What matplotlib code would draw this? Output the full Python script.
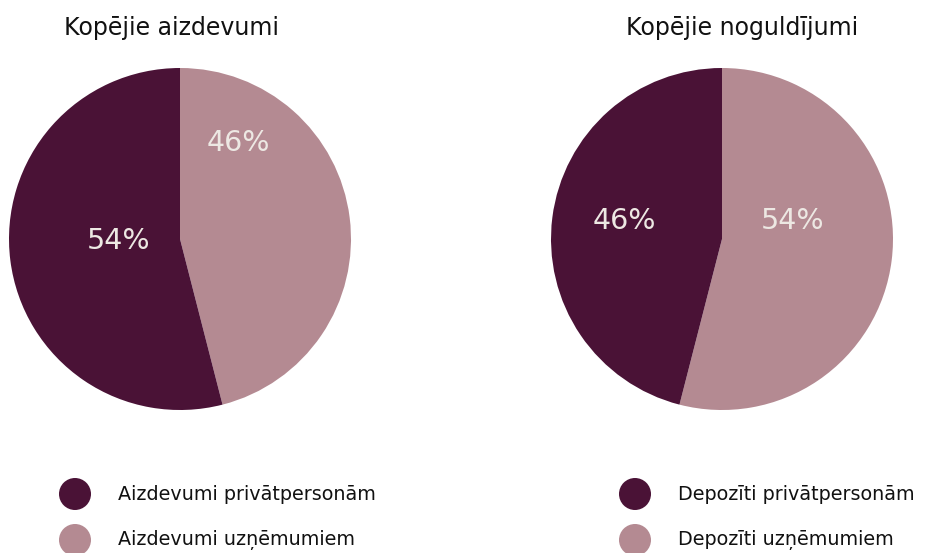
import matplotlib
matplotlib.use("Agg")
import matplotlib.pyplot as plt
from matplotlib.patches import Circle

titles = ["Kopējie aizdevumi", "Kopējie noguldījumi"]
left_labels = ["Aizdevumi uzņēmumiem", "Aizdevumi privātpersonām"]
right_labels = ["Depozīti uzņēmumiem", "Depozīti privātpersonām"]
left_values = [46, 54]
right_values = [54, 46]
colors = ["#b48a92", "#4a1236"]
text_color = "#ede8e3"

plt.rcParams['font.family'] = ['DejaVu Sans']

W, H = 926, 553
fig = plt.figure(figsize=(W / 100, H / 100), dpi=100)

def px_axes(cx, cy, r):
    return fig.add_axes([(cx - r) / W, (H - cy - r) / H, 2 * r / W, 2 * r / H])

pies = [
    (180, 239, 171, left_values, [(0.34, 0.56), (-0.36, -0.01)]),
    (722, 239, 171, right_values, [(0.415, 0.105), (-0.57, 0.105)]),
]
for cx, cy, r, vals, lpos in pies:
    ax = px_axes(cx, cy, r)
    ax.pie(vals, colors=colors, startangle=90, counterclock=False, radius=1.0,
           wedgeprops=dict(linewidth=0))
    ax.set_xlim(-1, 1)
    ax.set_ylim(-1, 1)
    ax.set_aspect('equal')
    ax.axis('off')
    for v, (x, y) in zip(vals, lpos):
        ax.text(x, y, f"{v}%", ha='center', va='center', fontsize=20.5,
                color=text_color)

# titles
fig.text(172 / W, 1 - 28 / H, titles[0], ha='center', va='center', fontsize=17, color='#111111')
fig.text(742 / W, 1 - 28 / H, titles[1], ha='center', va='center', fontsize=17, color='#111111')

# legends
lax = fig.add_axes([0, 0, 1, 1])
lax.set_xlim(0, W)
lax.set_ylim(H, 0)
lax.axis('off')
for x0, labs in [(75, left_labels), (635, right_labels)]:
    for i, (lab, c) in enumerate(zip(reversed(labs), reversed(colors))):
        y = 494 + 46 * i
        lax.add_patch(Circle((x0, y), 16, color=c, lw=0))
        lax.text(x0 + 43, y, lab, ha='left', va='center', fontsize=13.8, color='#111111')

fig.savefig("out.png", dpi=100)
